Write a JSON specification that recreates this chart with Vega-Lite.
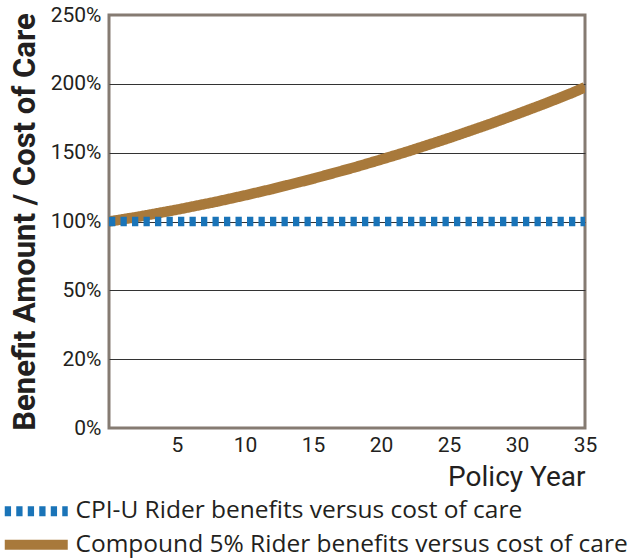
{
  "$schema": "https://vega.github.io/schema/vega-lite/v6.json",
  "width": 476,
  "height": 413,
  "autosize": {"type": "none"},
  "padding": {"left": 109, "top": 15, "right": 53, "bottom": 130},
  "background": "white",
  "config": {
    "view": {"stroke": "#857b72", "strokeWidth": 3},
    "font": "Roboto",
    "legend": {
      "title": null,
      "orient": "none",
      "legendX": -85,
      "legendY": 484,
      "direction": "vertical",
      "symbolType": "M-8,0L8,0",
      "symbolSize": 62,
      "symbolStrokeWidth": 10,
      "labelFont": "Open Sans",
      "labelFontSize": 24.5,
      "labelColor": "#231f20",
      "labelOffset": 27,
      "labelLimit": 700,
      "rowPadding": -7.5
    }
  },
  "data": {
    "values": [
      {"year": 0, "series": "Compound 5% Rider benefits versus cost of care", "value": 100.0},
      {"year": 1, "series": "Compound 5% Rider benefits versus cost of care", "value": 101.6},
      {"year": 2, "series": "Compound 5% Rider benefits versus cost of care", "value": 103.2},
      {"year": 3, "series": "Compound 5% Rider benefits versus cost of care", "value": 105.0},
      {"year": 4, "series": "Compound 5% Rider benefits versus cost of care", "value": 106.8},
      {"year": 5, "series": "Compound 5% Rider benefits versus cost of care", "value": 108.6},
      {"year": 6, "series": "Compound 5% Rider benefits versus cost of care", "value": 110.6},
      {"year": 7, "series": "Compound 5% Rider benefits versus cost of care", "value": 112.6},
      {"year": 8, "series": "Compound 5% Rider benefits versus cost of care", "value": 114.6},
      {"year": 9, "series": "Compound 5% Rider benefits versus cost of care", "value": 116.8},
      {"year": 10, "series": "Compound 5% Rider benefits versus cost of care", "value": 119.0},
      {"year": 11, "series": "Compound 5% Rider benefits versus cost of care", "value": 121.3},
      {"year": 12, "series": "Compound 5% Rider benefits versus cost of care", "value": 123.6},
      {"year": 13, "series": "Compound 5% Rider benefits versus cost of care", "value": 126.1},
      {"year": 14, "series": "Compound 5% Rider benefits versus cost of care", "value": 128.6},
      {"year": 15, "series": "Compound 5% Rider benefits versus cost of care", "value": 131.1},
      {"year": 16, "series": "Compound 5% Rider benefits versus cost of care", "value": 133.8},
      {"year": 17, "series": "Compound 5% Rider benefits versus cost of care", "value": 136.5},
      {"year": 18, "series": "Compound 5% Rider benefits versus cost of care", "value": 139.2},
      {"year": 19, "series": "Compound 5% Rider benefits versus cost of care", "value": 142.1},
      {"year": 20, "series": "Compound 5% Rider benefits versus cost of care", "value": 145.0},
      {"year": 21, "series": "Compound 5% Rider benefits versus cost of care", "value": 148.0},
      {"year": 22, "series": "Compound 5% Rider benefits versus cost of care", "value": 151.0},
      {"year": 23, "series": "Compound 5% Rider benefits versus cost of care", "value": 154.2},
      {"year": 24, "series": "Compound 5% Rider benefits versus cost of care", "value": 157.4},
      {"year": 25, "series": "Compound 5% Rider benefits versus cost of care", "value": 160.6},
      {"year": 26, "series": "Compound 5% Rider benefits versus cost of care", "value": 164.0},
      {"year": 27, "series": "Compound 5% Rider benefits versus cost of care", "value": 167.4},
      {"year": 28, "series": "Compound 5% Rider benefits versus cost of care", "value": 170.8},
      {"year": 29, "series": "Compound 5% Rider benefits versus cost of care", "value": 174.4},
      {"year": 30, "series": "Compound 5% Rider benefits versus cost of care", "value": 178.0},
      {"year": 31, "series": "Compound 5% Rider benefits versus cost of care", "value": 181.7},
      {"year": 32, "series": "Compound 5% Rider benefits versus cost of care", "value": 185.4},
      {"year": 33, "series": "Compound 5% Rider benefits versus cost of care", "value": 189.3},
      {"year": 34, "series": "Compound 5% Rider benefits versus cost of care", "value": 193.2},
      {"year": 35, "series": "Compound 5% Rider benefits versus cost of care", "value": 197.5},
      {"year": 0, "series": "CPI-U Rider benefits versus cost of care", "value": 100},
      {"year": 5, "series": "CPI-U Rider benefits versus cost of care", "value": 100},
      {"year": 10, "series": "CPI-U Rider benefits versus cost of care", "value": 100},
      {"year": 15, "series": "CPI-U Rider benefits versus cost of care", "value": 100},
      {"year": 20, "series": "CPI-U Rider benefits versus cost of care", "value": 100},
      {"year": 25, "series": "CPI-U Rider benefits versus cost of care", "value": 100},
      {"year": 30, "series": "CPI-U Rider benefits versus cost of care", "value": 100},
      {"year": 35, "series": "CPI-U Rider benefits versus cost of care", "value": 100}
    ]
  },
  "encoding": {
    "x": {
      "field": "year",
      "type": "quantitative",
      "scale": {"domain": [0, 35], "nice": false, "zero": false},
      "axis": {
        "values": [5, 10, 15, 20, 25, 30, 35],
        "title": "Policy Year",
        "titleFont": "Roboto",
        "titleFontSize": 28,
        "titleFontWeight": "normal",
        "titleColor": "#231f20",
        "titleAnchor": "end",
        "titlePadding": 8,
        "labelFont": "Roboto",
        "labelFontSize": 21,
        "labelColor": "#231f20",
        "labelPadding": 6,
        "labelFlush": false,
        "labelOverlap": false,
        "ticks": false,
        "domain": false,
        "grid": false
      }
    },
    "y": {
      "field": "value",
      "type": "quantitative",
      "scale": {
        "domain": [0, 20, 50, 100, 150, 200, 250],
        "range": [413, 344.2, 275.3, 206.5, 137.7, 68.8, 0],
        "nice": false,
        "zero": false
      },
      "axis": {
        "values": [0, 20, 50, 100, 150, 200, 250],
        "labelExpr": "datum.value + '%'",
        "title": "Benefit Amount / Cost of Care",
        "titleFont": "Roboto",
        "titleFontSize": 31,
        "titleFontWeight": "bold",
        "titleColor": "#231f20",
        "titlePadding": 9,
        "labelFont": "Roboto",
        "labelFontSize": 21,
        "labelColor": "#231f20",
        "labelPadding": 8,
        "labelOverlap": false,
        "ticks": false,
        "domain": false,
        "grid": true,
        "gridColor": "#333333",
        "gridWidth": 1,
        "gridOpacity": {"condition": {"test": "datum.value == 0 || datum.value == 250", "value": 0}, "value": 1}
      }
    },
    "color": {
      "field": "series",
      "type": "nominal",
      "scale": {
        "domain": ["CPI-U Rider benefits versus cost of care", "Compound 5% Rider benefits versus cost of care"],
        "range": ["#1a74b8", "#a8793b"]
      }
    },
    "strokeDash": {
      "field": "series",
      "type": "nominal",
      "scale": {
        "domain": ["CPI-U Rider benefits versus cost of care", "Compound 5% Rider benefits versus cost of care"],
        "range": [[6.3, 5.2], [1, 0]]
      }
    }
  },
  "layer": [
    {
      "transform": [{"filter": "datum.series == 'Compound 5% Rider benefits versus cost of care'"}],
      "mark": {"type": "line", "strokeWidth": 10.5, "strokeCap": "butt", "clip": true}
    },
    {
      "transform": [{"filter": "datum.series == 'CPI-U Rider benefits versus cost of care'"}],
      "mark": {"type": "line", "strokeWidth": 9.5, "strokeCap": "butt", "clip": true}
    }
  ]
}
